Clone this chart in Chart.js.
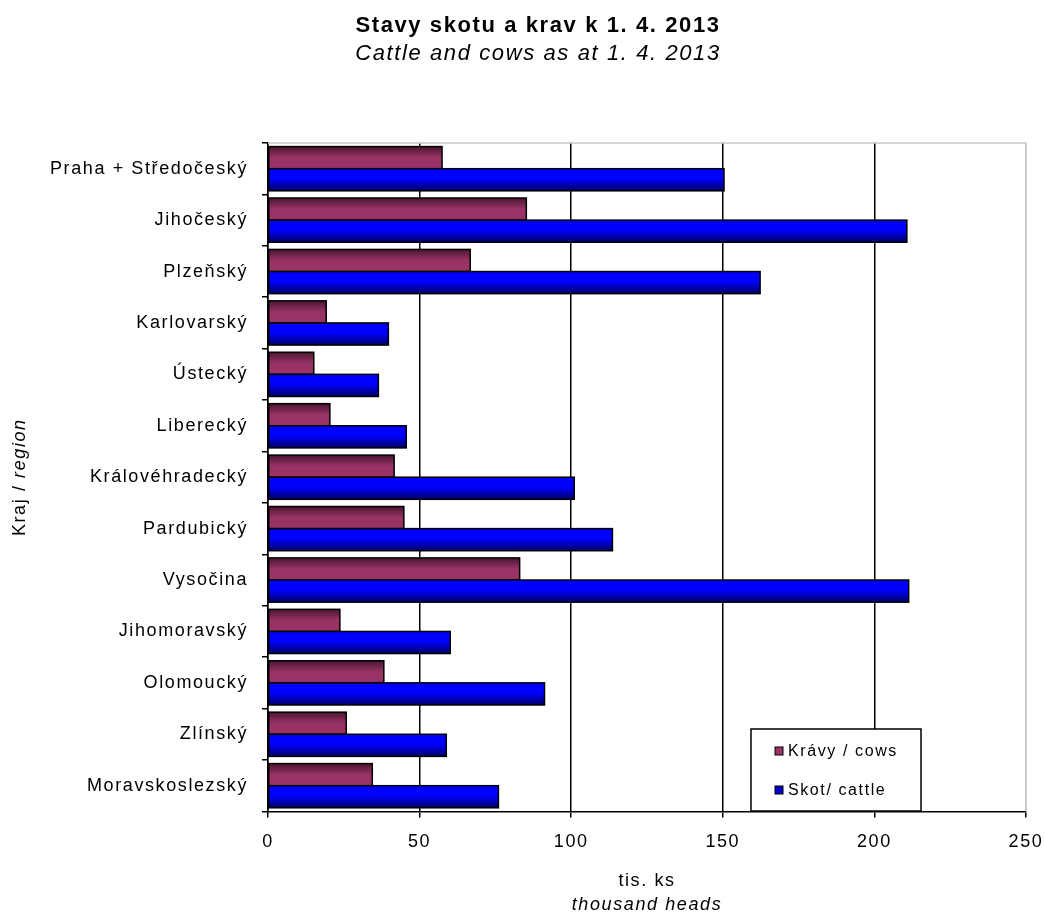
<!DOCTYPE html>
<html>
<head>
<meta charset="utf-8">
<script src="https://cdn.jsdelivr.net/npm/chart.js@4"></script>
<style>
  html, body { margin: 0; padding: 0; background: #fff; }
  canvas { display: block; }
</style>
</head>
<body>
<canvas id="cattleChart" width="1045" height="916"></canvas>
<script>
const regions = [
    'Praha + Středočeský', 'Jihočeský', 'Plzeňský', 'Karlovarský', 'Ústecký',
    'Liberecký', 'Královéhradecký', 'Pardubický', 'Vysočina', 'Jihomoravský',
    'Olomoucký', 'Zlínský', 'Moravskoslezský'
];
// thousand heads
const cows =   [57.4, 85.2, 66.7, 19.2, 15.1, 20.4, 41.6, 44.8, 83.0, 23.7, 38.2, 25.8, 34.4];
const cattle = [150.4, 210.7, 162.3, 39.7, 36.4, 45.6, 101.0, 113.6, 211.3, 60.1, 91.2, 58.8, 76.0];
const xMin = 0, xMax = 250, xStep = 50;

const FONT = '"Liberation Sans", Arial, sans-serif';
const SPACING = '1.6px';   // the source was rendered with loose letter spacing

// gradient stops per series, top -> bottom of each bar
const shades = {
    cows:   [[0, '#4a1530'], [0.5, '#993366'], [1, '#993366']],
    cattle: [[0, '#0000ff'], [0.45, '#0000ff'], [1, '#000066']]
};

const decor = {
    id: 'decor',
    beforeUpdate(chart) { chart.ctx.letterSpacing = SPACING; },
    beforeDraw(chart) { chart.ctx.letterSpacing = SPACING; },
    beforeDatasetsDraw(chart) {
        const { ctx, chartArea: a } = chart;
        ctx.save();
        ctx.strokeStyle = '#c8c8c8';
        ctx.lineWidth = 1.5;
        ctx.beginPath();
        ctx.moveTo(a.left, a.top);
        ctx.lineTo(a.right, a.top);
        ctx.lineTo(a.right, a.bottom);
        ctx.stroke();
        ctx.restore();
    },
    afterDatasetsDraw(chart) {
        const ctx = chart.ctx;
        chart.data.datasets.forEach((ds, i) => {
            const meta = chart.getDatasetMeta(i);
            meta.data.forEach(bar => {
                const { x, y, base, height } = bar.getProps(['x', 'y', 'base', 'height'], true);
                const top = y - height / 2;
                const left = Math.min(x, base);
                const w = Math.abs(x - base);
                const g = ctx.createLinearGradient(0, top, 0, top + height);
                shades[ds.key].forEach(([p, c]) => g.addColorStop(p, c));
                ctx.save();
                ctx.fillStyle = g;
                ctx.fillRect(left, top, w, height);
                ctx.strokeStyle = '#000';
                ctx.lineWidth = 1.5;
                ctx.strokeRect(left, top, w, height);
                ctx.restore();
            });
        });
    },
    afterDraw(chart) {
        const { ctx, chartArea: a } = chart;
        const midX = (a.left + a.right) / 2;
        const midY = (a.top + a.bottom) / 2;
        ctx.save();
        ctx.letterSpacing = SPACING;
        ctx.fillStyle = '#000';
        ctx.textAlign = 'center';
        ctx.textBaseline = 'middle';

        // titles
        ctx.font = 'bold 22px ' + FONT;
        ctx.fillText('Stavy skotu a krav k 1. 4. 2013', 538, 26);
        ctx.font = 'italic 22px ' + FONT;
        ctx.fillText('Cattle and cows as at 1. 4. 2013', 538, 54);

        // x axis title
        ctx.font = '18px ' + FONT;
        ctx.fillText('tis. ks', midX, 881);
        ctx.font = 'italic 18px ' + FONT;
        ctx.fillText('thousand heads', midX, 905);

        // y axis title, rotated, mixed styles
        ctx.save();
        ctx.translate(20, midY);
        ctx.rotate(-Math.PI / 2);
        const p1 = 'Kraj / ', p2 = 'region';
        ctx.font = '18px ' + FONT;
        const w1 = ctx.measureText(p1).width;
        ctx.font = 'italic 18px ' + FONT;
        const w2 = ctx.measureText(p2).width;
        ctx.textAlign = 'left';
        ctx.font = '18px ' + FONT;
        ctx.fillText(p1, -(w1 + w2) / 2, 0);
        ctx.font = 'italic 18px ' + FONT;
        ctx.fillText(p2, -(w1 + w2) / 2 + w1, 0);
        ctx.restore();

        // legend box
        const lx = 751, ly = 729, lw = 170, lh = 82;
        ctx.fillStyle = '#fff';
        ctx.fillRect(lx, ly, lw, lh);
        ctx.strokeStyle = '#000';
        ctx.lineWidth = 1.5;
        ctx.strokeRect(lx, ly, lw, lh);
        ctx.textAlign = 'left';
        ctx.font = '16px ' + FONT;
        chart.data.datasets.forEach((ds, i) => {
            const cy = ly + 22 + i * 39;
            ctx.fillStyle = ds.backgroundColor;
            ctx.fillRect(lx + 24, cy - 4, 8, 8);
            ctx.lineWidth = 1;
            ctx.strokeRect(lx + 24, cy - 4, 8, 8);
            ctx.fillStyle = '#000';
            ctx.fillText(ds.label, lx + 37, cy + 1);
        });
        ctx.restore();
    }
};

new Chart(document.getElementById('cattleChart'), {
    type: 'bar',
    data: {
        labels: regions,
        datasets: [
            { key: 'cows', label: 'Krávy / cows', data: cows, backgroundColor: '#993366', borderColor: '#000', borderWidth: 0 },
            { key: 'cattle', label: 'Skot/ cattle', data: cattle, backgroundColor: '#0000cc', borderColor: '#000', borderWidth: 0 }
        ]
    },
    options: {
        indexAxis: 'y',
        responsive: false,
        animation: false,
        devicePixelRatio: 1,
        layout: { padding: { top: 143, right: 19, bottom: 49, left: 0 } },
        datasets: { bar: { categoryPercentage: 0.86, barPercentage: 1 } },
        plugins: {
            legend: { display: false },
            tooltip: { enabled: false }
        },
        scales: {
            x: {
                min: xMin,
                max: xMax,
                afterFit: s => { s.paddingLeft = 0; s.paddingRight = 0; },
                ticks: { stepSize: xStep, color: '#000', padding: 14, font: { family: FONT, size: 18 } },
                grid: {
                    color: c => (c.tick && c.tick.value === xMax) ? '#c8c8c8' : '#000',
                    lineWidth: 1.5,
                    tickColor: '#000',
                    tickLength: 6
                },
                border: { color: '#000', width: 1.5 }
            },
            y: {
                afterFit: s => { s.width = 268; },
                ticks: { color: '#000', padding: 14, font: { family: FONT, size: 18 } },
                grid: { drawOnChartArea: false, color: '#000', tickLength: 6, lineWidth: 1.5 },
                border: { color: '#000', width: 1.5 }
            }
        }
    },
    plugins: [decor]
});
</script>
</body>
</html>
